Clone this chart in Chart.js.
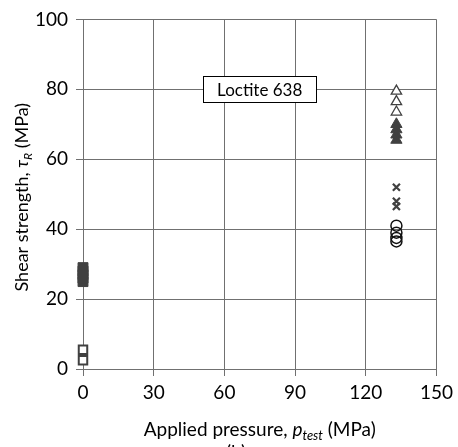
<!DOCTYPE html>
<html>
<head>
<meta charset="utf-8">
<script src="https://cdn.jsdelivr.net/npm/chart.js@4/dist/chart.umd.min.js"></script>
<style>
  html, body { margin: 0; padding: 0; background: #fff; }
  #wrap { position: relative; width: 458px; height: 447px; }
</style>
</head>
<body>
<div id="wrap"><canvas id="chart" width="458" height="447"></canvas></div>
<script>
// --- data ---
const xTicks = [0, 30, 60, 90, 120, 150];
const yTicks = [0, 20, 40, 60, 80, 100];

const pTest = 133;   // applied pressure of the pressurised tests
const openSquares = [5.5, 2.5];
const filledSquares = [25, 26, 27, 28, 29];
const openTriangles = [79.5, 76.5, 73.5];
const filledTriangles = [70, 68.5, 67, 65.5];
const crosses = [52, 48, 46.5];
const circles = [41, 39, 37.5, 36.5];

const boxLabel = 'Loc\u200Ctite 638';   // ZWNJ stops Lato's "ct" ligature
const fontFam = 'Lato, "Open Sans", sans-serif';
const dark = '#404040';
const gridCol = '#707070';

const pts = (x, ys) => ys.map(y => ({ x, y }));

// titles with italic symbols and subscripts + the text box
const extras = {
    id: 'extras',
    afterDraw(chart) {
        const ctx = chart.ctx;
        const area = chart.chartArea;
        const xs = chart.scales.x, ys = chart.scales.y;

        function drawRuns(parts, cx, cy) {
            let w = 0;
            parts.forEach(p => { ctx.font = p.font; w += ctx.measureText(p.t).width; });
            let x = cx - w / 2;
            parts.forEach(p => {
                ctx.font = p.font;
                ctx.fillText(p.t, x, cy + (p.dy || 0));
                x += ctx.measureText(p.t).width;
            });
        }
        ctx.save();
        ctx.fillStyle = '#000';
        ctx.textBaseline = 'alphabetic';
        ctx.textAlign = 'left';

        // x title
        drawRuns([
            { t: 'Applied pressure, ', font: '19px ' + fontFam },
            { t: 'p', font: 'italic 19px ' + fontFam },
            { t: 'test', font: 'italic 13px ' + fontFam, dy: 4 },
            { t: ' (MPa)', font: '19px ' + fontFam }
        ], (area.left + area.right) / 2, 436);

        // "(b)" caption, cut by the bottom edge
        ctx.textAlign = 'center';
        ctx.font = '19px ' + fontFam;
        ctx.textBaseline = 'top';
        ctx.fillText('(b)', 236, 443);
        ctx.textAlign = 'left';
        ctx.textBaseline = 'alphabetic';

        // y title
        ctx.save();
        ctx.translate(28, (area.top + area.bottom) / 2 + 3);
        ctx.rotate(-Math.PI / 2);
        drawRuns([
            { t: 'Shear strength, ', font: '18px ' + fontFam },
            { t: 'τ', font: 'italic 18px ' + fontFam },
            { t: 'R', font: 'italic 12px ' + fontFam, dy: 4 },
            { t: ' (MPa)', font: '18px ' + fontFam }
        ], 0, 0);
        ctx.restore();

        // label box
        const bx = xs.getPixelForValue(51), by = ys.getPixelForValue(80);
        const bw = 113, bh = 26;
        ctx.fillStyle = '#fff';
        ctx.fillRect(bx, by - bh / 2, bw, bh);
        ctx.strokeStyle = '#000';
        ctx.lineWidth = 1;
        ctx.strokeRect(Math.round(bx) + 0.5, Math.round(by - bh / 2) + 0.5, bw, bh);
        ctx.fillStyle = '#000';
        ctx.font = '17px ' + fontFam;
        ctx.textAlign = 'center';
        ctx.textBaseline = 'middle';
        ctx.fillText(boxLabel, bx + bw / 2, by + 1);
        ctx.restore();
    }
};

new Chart(document.getElementById('chart'), {
    type: 'scatter',
    data: {
        datasets: [
            { data: pts(0, filledSquares), pointStyle: 'rect', pointRadius: 7, backgroundColor: dark, borderColor: dark, borderWidth: 1 },
            { data: pts(0, openSquares), pointStyle: 'rect', pointRadius: 6, backgroundColor: '#fff', borderColor: dark, borderWidth: 2 },
            { data: pts(pTest, openTriangles), pointStyle: 'triangle', pointRadius: 6, backgroundColor: '#fff', borderColor: dark, borderWidth: 1.3 },
            { data: pts(pTest, filledTriangles), pointStyle: 'triangle', pointRadius: 6.5, backgroundColor: dark, borderColor: dark, borderWidth: 1 },
            { data: pts(pTest, crosses), pointStyle: 'crossRot', pointRadius: 5, borderColor: dark, borderWidth: 2.2 },
            { data: pts(pTest, circles), pointStyle: 'circle', pointRadius: 5.5, backgroundColor: 'rgba(0,0,0,0)', borderColor: '#111', borderWidth: 1.5 }
        ].map(d => Object.assign(d, { clip: false }))
    },
    options: {
        responsive: false,
        animation: false,
        events: [],
        layout: { padding: { top: 15, right: 19, left: 0, bottom: 0 } },
        plugins: { legend: { display: false }, tooltip: { enabled: false } },
        scales: {
            x: {
                type: 'linear', min: 0, max: 150,
                afterBuildTicks: s => { s.ticks = xTicks.map(v => ({ value: v })); },
                afterFit: s => { s.height = 78; },
                grid: { color: gridCol, lineWidth: 1, tickLength: 7, tickColor: gridCol },
                border: { color: gridCol },
                ticks: { color: '#000', font: { family: fontFam, size: 19 }, padding: 5, maxRotation: 0 }
            },
            y: {
                type: 'linear', min: 0, max: 100,
                afterBuildTicks: s => { s.ticks = yTicks.map(v => ({ value: v })); },
                afterFit: s => { s.width = 83; },
                grid: { color: gridCol, lineWidth: 1, tickLength: 7, tickColor: gridCol },
                border: { color: gridCol },
                ticks: { color: '#000', font: { family: fontFam, size: 19 }, padding: 8 }
            }
        }
    },
    plugins: [extras]
});
</script>
</body>
</html>
